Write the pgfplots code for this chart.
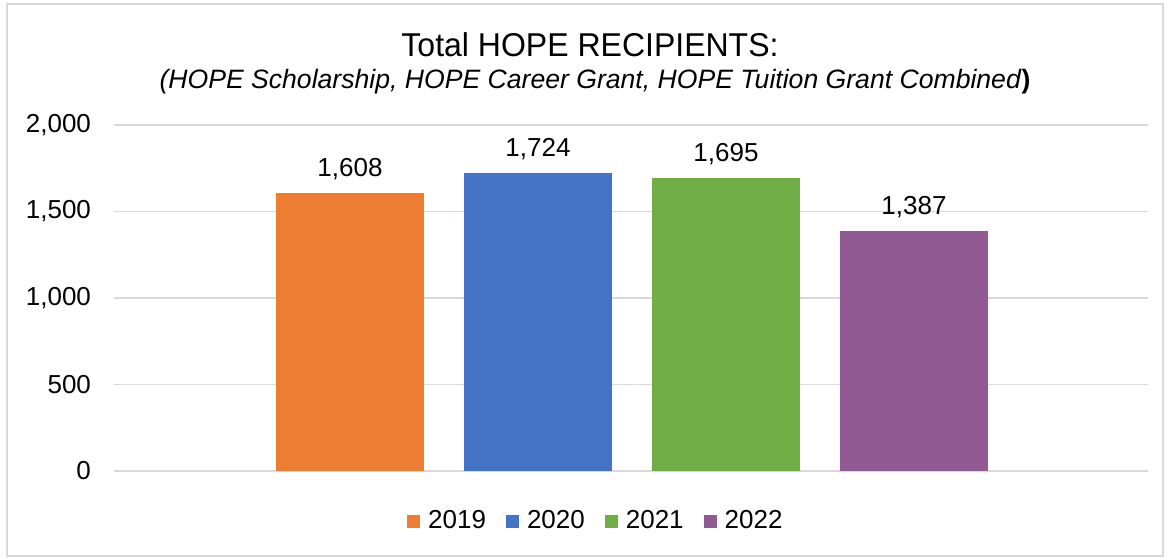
\documentclass[border=0pt]{standalone}
\usepackage{fontspec}
\setmainfont{Liberation Sans}
\usepackage{pgfplots}
\pgfplotsset{compat=1.18}
\definecolor{c19}{HTML}{ED7D31}
\definecolor{c20}{HTML}{4472C4}
\definecolor{c21}{HTML}{70AD47}
\definecolor{c22}{HTML}{925A93}
\definecolor{gridc}{HTML}{D9D9D9}
\definecolor{framec}{HTML}{D9D9D9}
\begin{document}
\begin{tikzpicture}[x=1pt,y=1pt]
\path[use as bounding box] (0,0) rectangle (584,279.5);
\draw[framec,line width=0.8pt] (3.5,1.5) rectangle (581.5,277.5);
\node[font=\fontsize{16.5}{19}\selectfont] at (295,257) {\scalebox{0.97}[1]{Total HOPE RECIPIENTS:}};
\node[font=\fontsize{13.3}{16}\selectfont] at (297.5,238.5) {\itshape(HOPE Scholarship, HOPE Career Grant, HOPE Tuition Grant Combined\/\upshape\bfseries)};
\begin{axis}[
  at={(57pt,44pt)}, anchor=south west,
  scale only axis, width=517pt, height=173pt,
  xmin=-0.2553, xmax=5.2447, ymin=0, ymax=2000,
  ytick={0,500,1000,1500,2000}, xtick=\empty,
  ymajorgrids, grid style={gridc, line width=0.8pt},
  axis line style={draw=none}, tick style={draw=none},
  /pgf/number format/assume math mode=true,
  /pgf/number format/1000 sep={,},
  yticklabel style={font=\fontsize{13}{15}\selectfont, xshift=-8pt},
  ybar, bar width=74pt, bar shift=0pt,
  nodes near coords,
  every node near coord/.append style={font=\fontsize{13}{15}\selectfont, yshift=3pt},
  legend style={at={(0.467,-0.145)}, anchor=center, draw=none, legend columns=4,
    font=\fontsize{13}{15}\selectfont, /tikz/every even column/.append style={column sep=8pt}},
  legend image code/.code={\fill[#1] (0pt,-3.25pt) rectangle (6.5pt,3.25pt); \path (6.5pt,0pt) -- (8.5pt,0pt);},
]
\addplot[fill=c19, draw=none] coordinates {(1,1608)};
\addplot[fill=c20, draw=none] coordinates {(2,1724)};
\addplot[fill=c21, draw=none] coordinates {(3,1695)};
\addplot[fill=c22, draw=none] coordinates {(4,1387)};
\legend{2019,2020,2021,2022}
\end{axis}
\end{tikzpicture}
\end{document}
